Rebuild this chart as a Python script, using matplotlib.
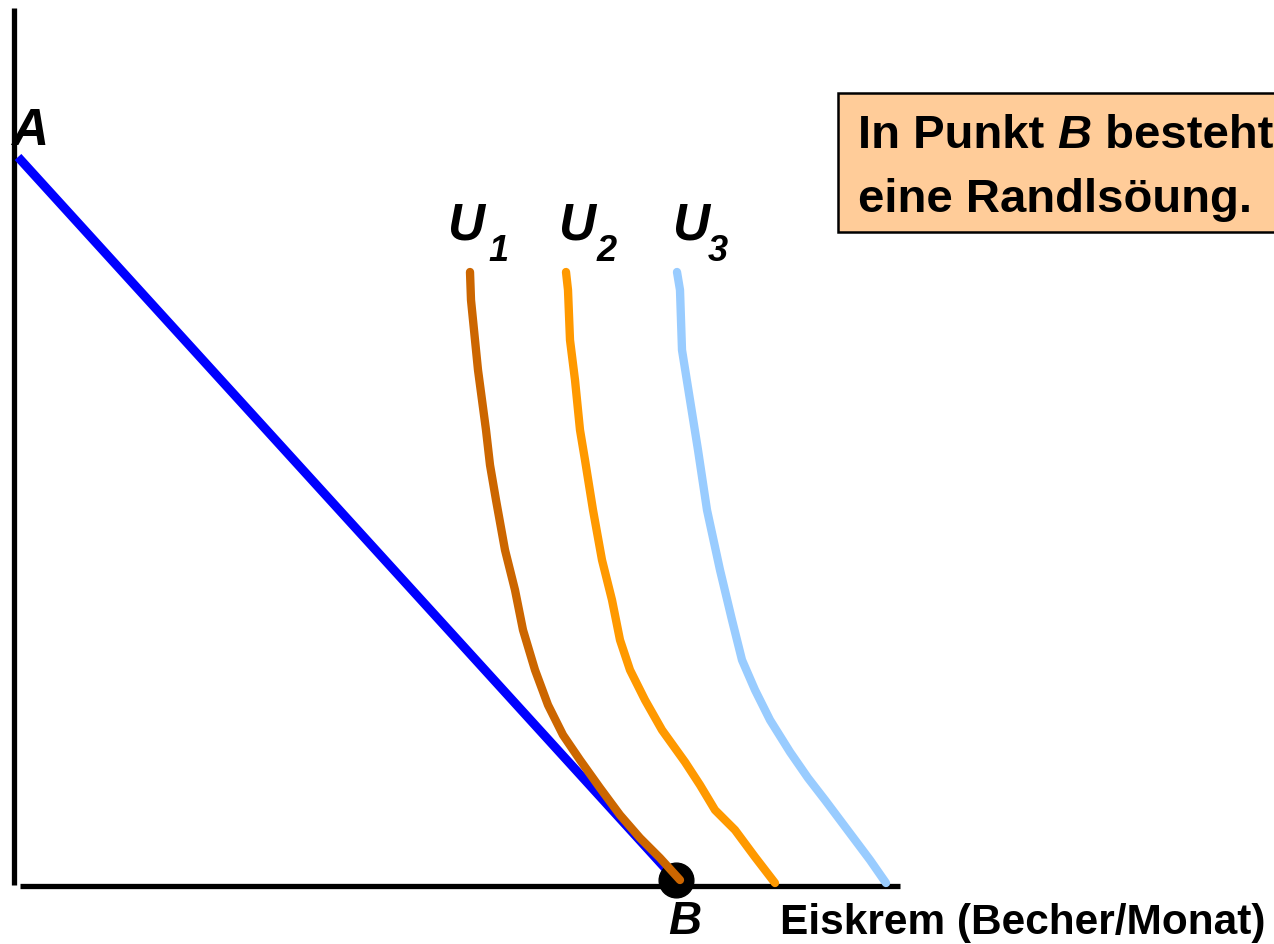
import matplotlib
matplotlib.use("Agg")
import matplotlib.pyplot as plt
from matplotlib.patches import Rectangle

plt.rcParams['font.family'] = ['Liberation Sans', 'DejaVu Sans']

# budget line from A (y-axis) to B (x-axis), in drawing units
budget_x = [4, 662]
budget_y = [729, 6]

# indifference curves U1, U2, U3
u1_x = [456, 457, 460, 464, 468, 472, 476, 482, 491, 501, 509, 521, 534, 549, 566, 586, 606, 626, 646, 666]
u1_y = [614, 586, 556, 516, 486, 456, 421, 386, 336, 296, 256, 216, 181, 151, 126, 98, 71, 48, 28, 6]
u2_x = [552, 554, 556, 561, 566, 571, 579, 588, 598, 606, 616, 631, 648, 671, 686, 701, 721, 741, 761]
u2_y = [614, 596, 546, 506, 456, 426, 376, 326, 286, 246, 216, 186, 156, 124, 101, 76, 56, 29, 3]
u3_x = [663, 666, 668, 676, 684, 693, 706, 718, 728, 741, 756, 776, 794, 811, 826, 841, 856, 872]
u3_y = [614, 596, 536, 486, 436, 376, 316, 266, 226, 196, 166, 134, 108, 86, 66, 46, 26, 3]

curve_labels = ['1', '2', '3']
curve_colors = ['#CC6600', '#FF9900', '#99CCFF']

fig = plt.figure(figsize=(12.74, 9.44), dpi=100)
ax = fig.add_axes([0, 0, 1, 1])
ax.set_xlim(-14, 1260)
ax.set_ylim(-58, 886)
ax.axis('off')

# axes
ax.plot([0, 0], [1, 878], color='black', lw=3.8, solid_capstyle='butt')
ax.plot([6, 886], [0, 0], color='black', lw=3.8, solid_capstyle='butt')

# budget line and corner point
ax.plot(budget_x, budget_y, color='#0000FF', lw=6.5, solid_capstyle='butt', zorder=3)
ax.plot(budget_x[1], budget_y[1], 'o', color='black', ms=25, zorder=4)

curves = [(u1_x, u1_y), (u2_x, u2_y), (u3_x, u3_y)]
for (cx, cy), c in zip(curves[::-1], curve_colors[::-1]):
    ax.plot(cx, cy, color=c, lw=6, solid_capstyle='round',
            solid_joinstyle='round', zorder=5)

# labels
bi = dict(fontweight='bold', fontstyle='italic', color='black')
ax.text(16, 741, 'A', fontsize=37, ha='center', va='baseline', **bi)
ax.text(671, -48, 'B', fontsize=33, ha='center', va='baseline', **bi)
ax.text(766, -48, 'Eiskrem (Becher/Monat)', fontsize=30.5, fontweight='bold',
        ha='left', va='baseline')

u_left = [433, 544, 658]
sub_left = [474, 583, 694]
for ul, sl, lab in zip(u_left, sub_left, curve_labels):
    ax.text(ul, 646, 'U', fontsize=37, ha='left', va='baseline', **bi)
    ax.text(sl, 625, lab, fontsize=26, ha='left', va='baseline', **bi)

# note box
ax.add_patch(Rectangle((824, 654), 460, 139, facecolor='#FFCC99',
                       edgecolor='black', lw=1.8, zorder=2))
fig.canvas.draw()
r = fig.canvas.get_renderer()
inv = ax.transData.inverted()
t1 = ax.text(844, 738, 'In Punkt ', fontsize=34, fontweight='bold',
             ha='left', va='baseline', zorder=6)
x1 = inv.transform(t1.get_window_extent(r))[1][0]
t2 = ax.text(x1, 738, 'B', fontsize=34, ha='left', va='baseline', zorder=6, **bi)
x2 = inv.transform(t2.get_window_extent(r))[1][0]
ax.text(x2, 738, ' besteht', fontsize=34, fontweight='bold',
        ha='left', va='baseline', zorder=6)
ax.text(844, 674, 'eine Randlsöung.', fontsize=34, fontweight='bold',
        ha='left', va='baseline', zorder=6)

fig.savefig('out.png', dpi=100)
